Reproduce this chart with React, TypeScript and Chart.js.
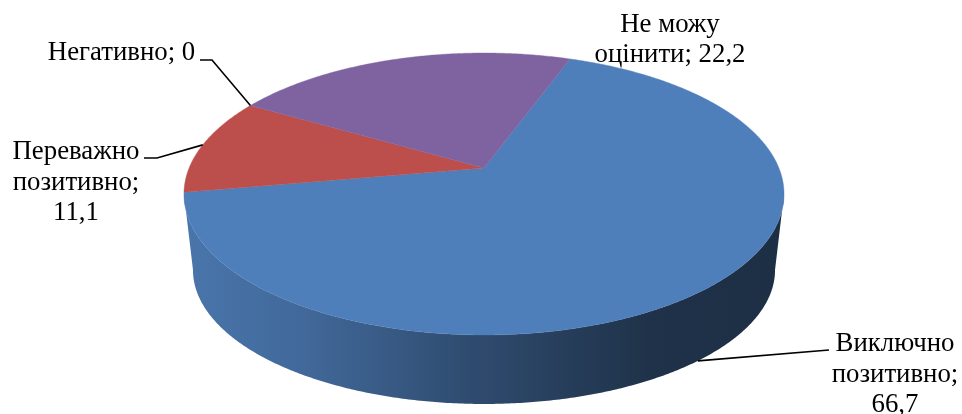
import React, { useEffect, useRef } from "react";
import { Chart, registerables } from "chart.js";

Chart.register(...registerables);

const categories = ["Виключно позитивно", "Переважно позитивно", "Негативно", "Не можу оцінити"];
const values = [66.7, 11.1, 0, 22.2];
const colors = ["#4F7FBA", "#BC4F4C", "#9BBB59", "#7F63A0"];
const startRotation = 20;

// Word counts per text line of every data label, with where it is placed.
const labelLayout = [
  { wrap: [1, 1, 1], cx: 895, baseline: 351, step: 30.5, leader: [[829, 350]], depth: 0.85 },
  { wrap: [1, 1, 1], cx: 76, baseline: 159, step: 30.5, leader: [[144, 158], [157, 158]], depth: 0 },
  { wrap: [2], cx: 121.5, baseline: 60, step: 30, leader: [[200, 60], [212, 60]], depth: 0 },
  { wrap: [2, 2], cx: 670, baseline: 32, step: 30, leader: null, depth: 0 },
];

const CX = 484, TIP_Y = 168, C = -0.1844, A = 105.2, K = 294.9;
const TOP = { cy: 194, rx: 300, ry: 141 };
const BOTTOM = { cy: 270, rx: 291, ry: 134 };

// angle: radians clockwise from the top of the pie
function project(angle: number) {
  const u = Math.sin(angle);
  const v = -Math.cos(angle);
  const d = 1 + C * v;
  return { x: CX + (K * u) / d, y: (A * v + TIP_Y) / d };
}

function lower(p: { x: number; y: number }) {
  return {
    x: CX + (BOTTOM.rx * (p.x - CX)) / TOP.rx,
    y: BOTTOM.cy + (BOTTOM.ry * (p.y - TOP.cy)) / TOP.ry,
  };
}

function shade(hex: string, f: number) {
  const n = parseInt(hex.slice(1), 16);
  const c = [(n >> 16) & 255, (n >> 8) & 255, n & 255].map((x) => Math.round(x * f));
  return `rgb(${c[0]},${c[1]},${c[2]})`;
}

const pie3d = {
  id: "pie3d",
  beforeDatasetsDraw(chart: any) {
    const ctx = chart.ctx as CanvasRenderingContext2D;
    const arcs = chart.getDatasetMeta(0).data as any[];
    const toCw = (a: number) => a + Math.PI / 2;
    const STEP = Math.PI / 360;

    // side wall of the slices that face the viewer
    arcs.forEach((arc, i) => {
      const s = toCw(arc.startAngle), e = toCw(arc.endAngle);
      if (e - s <= 0) return;
      const top: any[] = [];
      for (let a = s; a <= e; a += STEP) {
        const p = project(a);
        if (p.y >= TOP.cy - 0.5) top.push(p);
      }
      if (!top.length) return;
      const g = ctx.createLinearGradient(190, 0, 780, 0);
      const base = colors[i];
      g.addColorStop(0, shade(base, 0.92));
      g.addColorStop(0.2, shade(base, 0.82));
      g.addColorStop(0.47, shade(base, 0.6));
      g.addColorStop(0.78, shade(base, 0.39));
      g.addColorStop(1, shade(base, 0.37));
      ctx.beginPath();
      top.forEach((p, k) => (k ? ctx.lineTo(p.x, p.y) : ctx.moveTo(p.x, p.y)));
      [...top].reverse().forEach((p) => {
        const q = lower(p);
        ctx.lineTo(q.x, q.y);
      });
      ctx.closePath();
      ctx.fillStyle = g;
      ctx.fill();
    });

    // top face
    arcs.forEach((arc, i) => {
      const s = toCw(arc.startAngle), e = toCw(arc.endAngle);
      if (e - s <= 0) return;
      ctx.beginPath();
      ctx.moveTo(CX, TIP_Y);
      for (let a = s; a < e; a += STEP) {
        const p = project(a);
        ctx.lineTo(p.x, p.y);
      }
      const pe = project(e);
      ctx.lineTo(pe.x, pe.y);
      ctx.closePath();
      ctx.fillStyle = colors[i];
      ctx.fill();
      ctx.strokeStyle = colors[i];
      ctx.lineWidth = 0.4;
      ctx.stroke();
    });

    // labels and leader lines
    ctx.fillStyle = "#000";
    ctx.font = '26.8px "Liberation Serif"';
    ctx.textAlign = "center";
    ctx.textBaseline = "alphabetic";
    arcs.forEach((arc, i) => {
      const lay = labelLayout[i];
      const mid = toCw((arc.startAngle + arc.endAngle) / 2);
      const words = `${categories[i]}; ${String(values[i]).replace(".", ",")}`.split(" ");
      let w = 0;
      lay.wrap.forEach((n, row) => {
        ctx.fillText(words.slice(w, w + n).join(" "), lay.cx, lay.baseline + row * lay.step);
        w += n;
      });
      if (lay.leader) {
        const t = project(mid);
        const anchor = lay.depth ? lower(t) : t;
        ctx.beginPath();
        lay.leader.forEach(([x, y], k) => (k ? ctx.lineTo(x, y) : ctx.moveTo(x, y)));
        ctx.lineTo(anchor.x, anchor.y);
        ctx.strokeStyle = "#000";
        ctx.lineWidth = 1.6;
        ctx.stroke();
      }
    });
    return false;
  },
};

export default function App() {
  const ref = useRef<HTMLCanvasElement>(null);
  useEffect(() => {
    document.body.style.margin = "0";
    const chart = new Chart(ref.current!, {
      type: "pie",
      data: {
        labels: categories,
        datasets: [{ data: values, backgroundColor: colors, borderWidth: 0 }],
      },
      options: {
        animation: false,
        responsive: false,
        rotation: startRotation,
        plugins: { legend: { display: false }, tooltip: { enabled: false } },
      },
      plugins: [pie3d],
    } as any);
    return () => chart.destroy();
  }, []);
  return <canvas ref={ref} width={962} height={414} style={{ display: "block" }} />;
}
